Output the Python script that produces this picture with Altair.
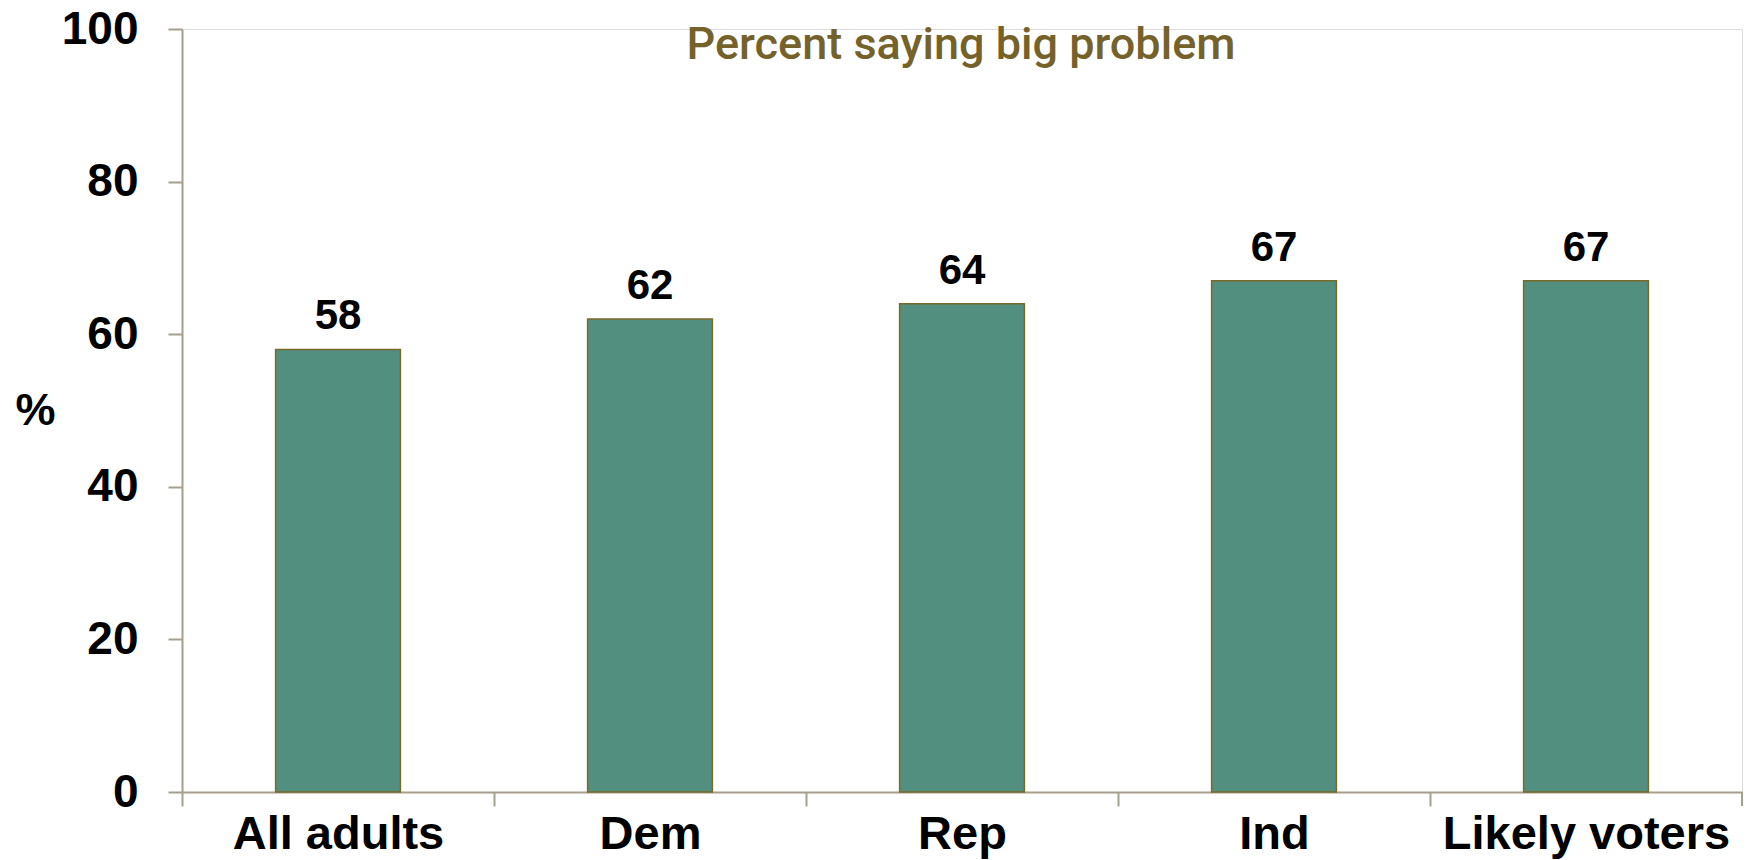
import altair as alt
import pandas as pd

categories = ["All adults", "Dem", "Rep", "Ind", "Likely voters"]
values = [58, 62, 64, 67, 67]
y_ticks = [0, 20, 40, 60, 80, 100]
chart_title = "Percent saying big problem"

df = pd.DataFrame({"group": categories, "pct": values})

AXIS_COLOR = "#a69e8e"
FILL = "#528f7e"
EDGE = "#7a6a2a"
TITLE_COLOR = "#74622a"

STEP = 1560 / 5

x_enc = alt.X(
    "group:N",
    sort=categories,
    scale=alt.Scale(paddingInner=0.6, paddingOuter=0.3),
    axis=alt.Axis(
        title=None,
        labelAngle=0,
        labelFont="Liberation Sans",
        labelFontWeight="bold",
        labelFontSize=47,
        labelColor="#000000",
        labelPadding=5,
        labelLimit=0,
        tickOffset=-STEP / 2,
        labelOffset=STEP / 2,
        tickSize=14,
        tickColor=AXIS_COLOR,
        tickWidth=2,
        domainColor=AXIS_COLOR,
        domainWidth=2,
        grid=False,
    ),
)

y_enc = alt.Y(
    "pct:Q",
    scale=alt.Scale(domain=[0, 100], nice=False),
    axis=alt.Axis(
        values=y_ticks,
        title="%",
        titleAngle=0,
        titleX=-147,
        titleY=381,
        titleAlign="center",
        titleBaseline="middle",
        titleFont="Liberation Sans",
        titleFontWeight="bold",
        titleFontSize=45,
        titleColor="#000000",
        labelFont="Liberation Sans",
        labelFontWeight="bold",
        labelFontSize=46,
        labelColor="#000000",
        labelPadding=30,
        tickSize=14,
        tickColor=AXIS_COLOR,
        tickWidth=2,
        domainColor=AXIS_COLOR,
        domainWidth=2,
        grid=False,
    ),
)

base = alt.Chart(df)

bars = base.mark_bar(fill=FILL, stroke=EDGE, strokeWidth=1.5).encode(x=x_enc, y=y_enc)

labels = base.mark_text(
    font="Liberation Sans",
    fontWeight="bold",
    fontSize=42,
    color="#000000",
    baseline="alphabetic",
    dy=-20,
).encode(x=alt.X("group:N", sort=categories), y="pct:Q", text="pct:Q")

# closing tick at the right end of the category axis
end_tick = alt.Chart(pd.DataFrame({"k": [0]})).mark_rule(
    color=AXIS_COLOR, strokeWidth=2
).encode(x=alt.value(1560), y=alt.value(763), y2=alt.value(777))

title_df = pd.DataFrame({"t": [chart_title]})
title = alt.Chart(title_df).mark_text(
    font="Roboto",
    fontWeight=500,
    fontSize=45,
    color=TITLE_COLOR,
    align="center",
    baseline="alphabetic",
).encode(x=alt.value(779), y=alt.value(30), text="t:N")

chart = (
    alt.layer(bars, labels, end_tick, title)
    .properties(
        width=1560,
        height=763,
        autosize=alt.AutoSizeParams(type="none"),
        padding={"left": 174, "top": 21, "right": 1, "bottom": 68},
    )
    .configure_view(stroke=None)
    .configure(background="white")
)

chart.save("out.html", embed_options={"renderer": "svg", "actions": False})
